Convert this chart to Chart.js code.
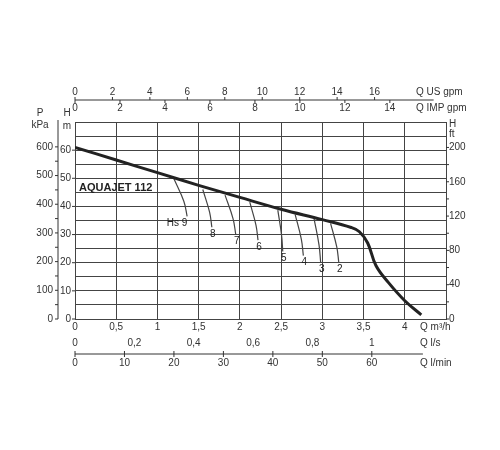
<!DOCTYPE html>
<html><head><meta charset="utf-8">
<script src="https://cdn.jsdelivr.net/npm/chart.js@4"></script>
<style>body{margin:0;background:#fff}#w{width:500px;height:450px}</style>
</head><body><div id="w"><canvas id="c"></canvas></div>
<script>
// Q in m3/h, H in m
const mainQ = [0, 0.5, 1, 1.5, 2, 2.5, 3, 3.35, 3.45, 3.55, 3.65, 3.8, 4, 4.2]
const mainH = [61, 56.5, 52, 47.5, 43.2, 39, 35.3, 32.5, 31, 27, 19, 13, 6.5, 1.5]
const hsLabels = ['Hs 9', '8', '7', '6', '5', '4', '3', '2']
const hsStartQ = [1.2, 1.55, 1.82, 2.12, 2.46, 2.67, 2.9, 3.1]
const hsStartH = [49.8, 46, 44, 41.5, 38.7, 37.2, 35.6, 34]
const hsEndQ = [1.36, 1.66, 1.95, 2.22, 2.52, 2.77, 2.98, 3.2]
const hsEndH = [36.5, 32.6, 30, 28, 24, 22.5, 20, 20]
const xTicks = [0, 0.5, 1, 1.5, 2, 2.5, 3, 3.5, 4]
const usGpm = [0, 2, 4, 6, 8, 10, 12, 14, 16]
const impGpm = [0, 2, 4, 6, 8, 10, 12, 14]
const lsTicks = [0, 0.2, 0.4, 0.6, 0.8, 1]
const lminTicks = [0, 10, 20, 30, 40, 50, 60]
const kpaTicks = [0, 100, 200, 300, 400, 500, 600]
const ftTicks = [0, 40, 80, 120, 160, 200]
const hTicks = [0, 10, 20, 30, 40, 50, 60]

const datasets = [{
  data: mainQ.map((q, i) => ({x: q, y: mainH[i]})),
  borderColor: '#222', borderWidth: 3, tension: 0.4, showLine: true, pointRadius: 0
}]
hsLabels.forEach((l, i) => {
  const mq = (hsStartQ[i] + hsEndQ[i]) / 2
  datasets.push({
    data: [{x: hsStartQ[i], y: hsStartH[i]}, {x: hsStartQ[i] + (hsEndQ[i] - hsStartQ[i]) * 0.75, y: (hsStartH[i] * 0.4 + hsEndH[i] * 0.6)}, {x: hsEndQ[i], y: hsEndH[i]}],
    borderColor: '#444', borderWidth: 1.2, tension: 0.4, showLine: true, pointRadius: 0
  })
})

const fmt = v => String(v).replace('.', ',')

const extra = {
  id: 'extra',
  afterDraw(chart) {
    const ctx = chart.ctx, xs = chart.scales.x, ys = chart.scales.y, a = chart.chartArea
    ctx.save()
    ctx.fillStyle = '#333'; ctx.strokeStyle = '#333'; ctx.lineWidth = 1
    ctx.font = '10px Arial, "Liberation Sans"'
    const hline = (y, x1, x2) => { ctx.beginPath(); ctx.moveTo(x1, y); ctx.lineTo(x2, y); ctx.stroke() }
    const vline = (x, y1, y2) => { ctx.beginPath(); ctx.moveTo(x, y1); ctx.lineTo(x, y2); ctx.stroke() }
    // bottom axes
    ctx.textAlign = 'center'; ctx.textBaseline = 'top'
    xTicks.forEach(v => ctx.fillText(fmt(v), xs.getPixelForValue(v), a.bottom + 3))
    lsTicks.forEach(v => ctx.fillText(fmt(v), xs.getPixelForValue(v * 3.6), a.bottom + 19))
    const yl = a.bottom + 35
    hline(yl, xs.getPixelForValue(0), xs.getPixelForValue(4.22))
    lminTicks.forEach(v => { const x = xs.getPixelForValue(v * 0.06); vline(x, yl - 3, yl + 3); ctx.fillText(v, x, yl + 4) })
    ctx.textAlign = 'left'
    ctx.fillText('Q m³/h', a.right - 26, a.bottom + 3)
    ctx.fillText('Q l/s', a.right - 26, a.bottom + 19)
    ctx.fillText('Q l/min', a.right - 26, yl + 4)
    // top axes
    const yt = 100
    hline(yt, xs.getPixelForValue(0), xs.getPixelForValue(4.35))
    ctx.textAlign = 'center'
    ctx.textBaseline = 'bottom'
    usGpm.forEach(v => { const x = xs.getPixelForValue(v * 0.2271); vline(x, yt - 3, yt); ctx.fillText(v, x, yt - 3) })
    ctx.textBaseline = 'top'
    impGpm.forEach(v => { const x = xs.getPixelForValue(v * 0.2728); vline(x, yt, yt + 3); ctx.fillText(v, x, yt + 3) })
    ctx.textAlign = 'left'
    ctx.textBaseline = 'bottom'; ctx.fillText('Q US gpm', a.right - 30, yt - 3)
    ctx.textBaseline = 'top'; ctx.fillText('Q IMP gpm', a.right - 30, yt + 3)
    // left axes
    ctx.textAlign = 'right'; ctx.textBaseline = 'middle'
    hTicks.forEach(v => { const y = ys.getPixelForValue(v); ctx.fillText(v, a.left - 4, y); hline(y, a.left - 3, a.left) })
    const xk = 58
    vline(xk, ys.getPixelForValue(0), a.top - 2)
    kpaTicks.forEach(v => { const y = ys.getPixelForValue(v / 9.81); hline(y, xk - 3, xk); ctx.fillText(v, xk - 5, y) })
    for (let v = 50; v < 650; v += 100) { const y = ys.getPixelForValue(v / 9.81); hline(y, xk - 3, xk) }
    ctx.textAlign = 'center'; ctx.textBaseline = 'bottom'
    ctx.fillText('P', 40, 118); ctx.fillText('kPa', 40, 130)
    ctx.fillText('H', 67, 118); ctx.fillText('m', 67, 131)
    // right ft axis
    ctx.textAlign = 'left'; ctx.textBaseline = 'middle'
    ftTicks.forEach(v => { const y = ys.getPixelForValue(v / 3.281); hline(y, a.right, a.right + 3); ctx.fillText(v, a.right + 3, y) })
    for (let v = 20; v < 220; v += 40) { const y = ys.getPixelForValue(v / 3.281); hline(y, a.right, a.right + 3) }
    ctx.fillText('H', a.right + 3, a.top + 2); ctx.fillText('ft', a.right + 3, a.top + 12)
    // title and Hs labels
    ctx.font = 'bold 11px Arial, "Liberation Sans"'; ctx.fillStyle = '#222'
    ctx.fillText('AQUAJET 112', a.left + 4, ys.getPixelForValue(46.5))
    ctx.font = '10px Arial, "Liberation Sans"'; ctx.textAlign = 'center'; ctx.textBaseline = 'top'
    hsLabels.forEach((l, i) => {
      const x = xs.getPixelForValue(hsEndQ[i]) + (i === 0 ? -10 : 1)
      ctx.fillText(l, x, ys.getPixelForValue(hsEndH[i]) + 2)
    })
    ctx.restore()
  }
}

new Chart(document.getElementById('c'), {
  type: 'scatter',
  data: {datasets},
  options: {
    responsive: true, maintainAspectRatio: false, animation: false,
    layout: {padding: {left: 75, right: 54, top: 122, bottom: 131}},
    plugins: {legend: {display: false}, tooltip: {enabled: false}},
    scales: {
      x: {type: 'linear', min: 0, max: 4.5, ticks: {display: false, stepSize: 0.5},
        grid: {color: '#444', lineWidth: 1, drawTicks: false}, border: {color: '#444'}},
      y: {type: 'linear', min: 0, max: 70, ticks: {display: false, stepSize: 5},
        grid: {color: '#444', lineWidth: 1, drawTicks: false}, border: {color: '#444'}}
    }
  },
  plugins: [extra]
})
</script></body></html>
